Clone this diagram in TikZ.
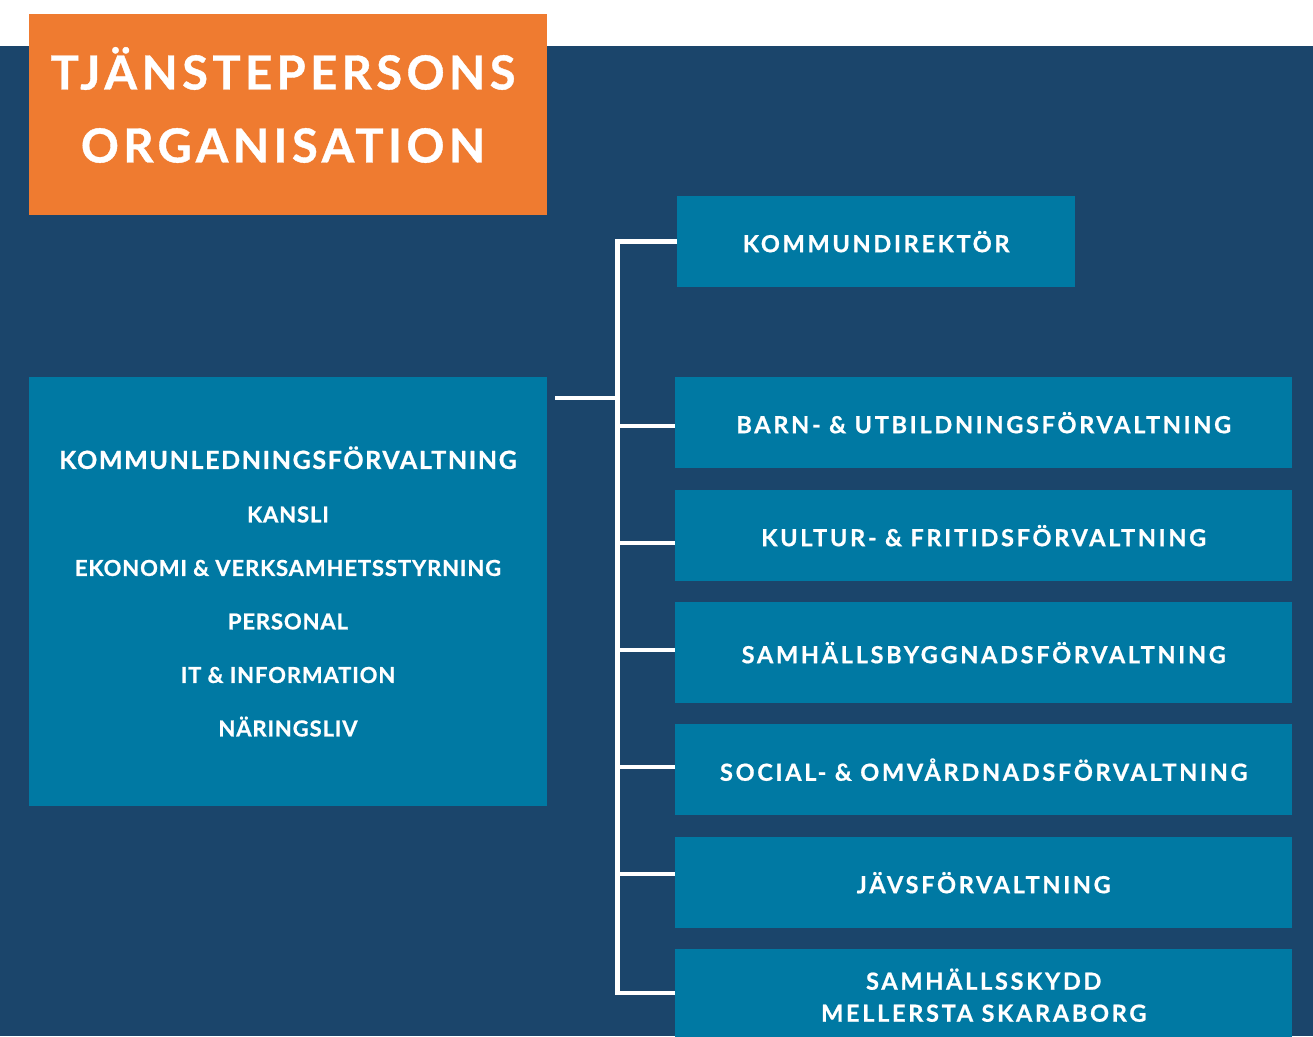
\documentclass[tikz,border=0pt]{standalone}
\usepackage{fontspec}
\setmainfont{Lato}
\newfontfamily\titlefont[LetterSpace=9.5, BoldFeatures={FakeBold=0.8}]{Lato}
\newfontfamily\boxfont[LetterSpace=11.5, BoldFeatures={FakeBold=0.8}]{Lato}
\newfontfamily\headfont[LetterSpace=6.5, BoldFeatures={FakeBold=0.8}]{Lato}
\newfontfamily\subfont[LetterSpace=4, BoldFeatures={FakeBold=0.8}]{Lato}
\definecolor{bgnavy}{RGB}{27,69,107}
\definecolor{boxteal}{RGB}{0,121,163}
\definecolor{titleorange}{RGB}{239,123,48}
\begin{document}
\begin{tikzpicture}[x=1pt,y=-1pt,
  tealbox/.style={fill=boxteal, draw=none, anchor=north west, inner sep=0pt},
  boxlabel/.style={text=white, align=center, inner sep=0pt, font=\boxfont\bfseries\fontsize{23.5}{32}\selectfont},
  branch/.style={draw=white, line width=4.5pt}]
\useasboundingbox (0,0) rectangle (1313,1036);
\fill[white] (0,0) rectangle (1313,46);
\fill[bgnavy] (0,46) rectangle (1313,1036);
\node[fill=titleorange, anchor=north west, minimum width=518pt, minimum height=201pt, inner sep=0pt] (title) at (29,14) {};
\node[text=white, inner sep=0pt, font=\titlefont\bfseries\fontsize{47}{73}\selectfont, align=center] (titletext) at (283,105) {TJÄNSTEPERSONS\\ORGANISATION};
\node[tealbox, minimum width=518pt, minimum height=429pt] (klf) at (29,377) {};
\node[text=white, align=center, inner sep=0pt, font=\subfont\bfseries\fontsize{22}{53.5}\selectfont] (klftext) at (288,591.5)
  {{\headfont\bfseries\fontsize{25}{53.5}\selectfont KOMMUNLEDNINGSFÖRVALTNING}\\KANSLI\\EKONOMI \& VERKSAMHETSSTYRNING\\PERSONAL\\IT \& INFORMATION\\NÄRINGSLIV};
\node[tealbox, minimum width=398pt, minimum height=91pt] (kd) at (677,196) {};
\node[boxlabel] at (kd.center) {KOMMUNDIREKTÖR};
\node[tealbox, minimum width=617pt, minimum height=91pt] (bu) at (675,377) {};
\node[boxlabel] at (bu.center) {BARN- \& UTBILDNINGSFÖRVALTNING};
\node[tealbox, minimum width=617pt, minimum height=91pt] (kf) at (675,490) {};
\node[boxlabel] at (kf.center) {KULTUR- \& FRITIDSFÖRVALTNING};
\node[tealbox, minimum width=617pt, minimum height=101pt] (sb) at (675,602) {};
\node[boxlabel] at (sb.center) {SAMHÄLLSBYGGNADSFÖRVALTNING};
\node[tealbox, minimum width=617pt, minimum height=91pt] (so) at (675,724) {};
\node[boxlabel] at (so.center) {SOCIAL- \& OMVÅRDNADSFÖRVALTNING};
\node[tealbox, minimum width=617pt, minimum height=91pt] (jv) at (675,837) {};
\node[boxlabel] at (jv.center) {JÄVSFÖRVALTNING};
\node[tealbox, minimum width=617pt, minimum height=92pt] (ss) at (675,949) {};
\node[boxlabel] at (ss.center) {SAMHÄLLSSKYDD\\MELLERSTA SKARABORG};
% connectors
\coordinate (ttop) at (617.5,241.5);
\coordinate (tbot) at (617.5,993);
\coordinate (stub) at (555,398);
\draw[branch] (kd.west |- ttop) -- (ttop) -- (tbot) -- (ss.west |- tbot);
\draw[branch] (stub) -- (ttop |- stub);
\draw[branch] (ttop |- 0,426) -- (bu.west |- 0,426);
\draw[branch] (ttop |- 0,543) -- (kf.west |- 0,543);
\draw[branch] (ttop |- 0,650) -- (sb.west |- 0,650);
\draw[branch] (ttop |- 0,767) -- (so.west |- 0,767);
\draw[branch] (ttop |- 0,874) -- (jv.west |- 0,874);
\end{tikzpicture}
\end{document}
